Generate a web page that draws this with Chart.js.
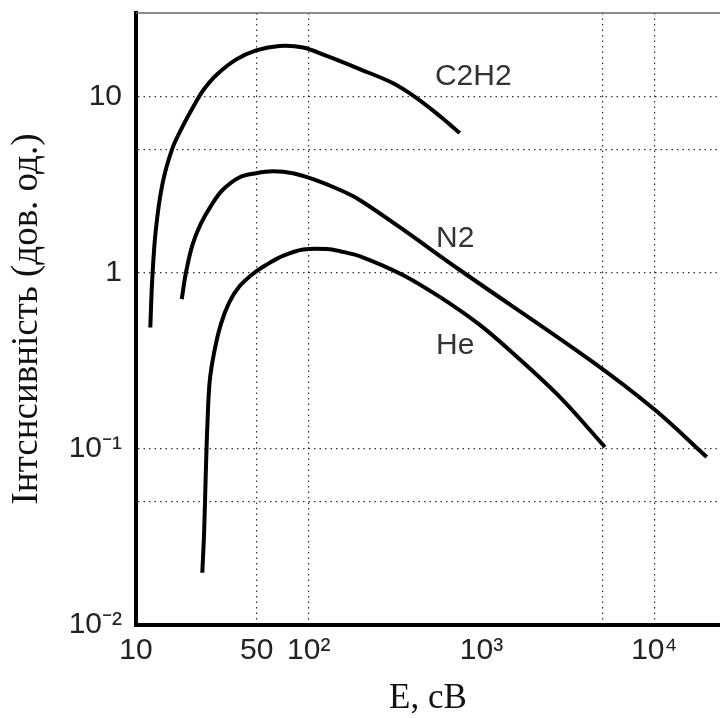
<!DOCTYPE html>
<html>
<head>
<meta charset="utf-8">
<script src="https://cdn.jsdelivr.net/npm/chart.js@4.4.1/dist/chart.umd.min.js"></script>
<style>
  html, body { margin: 0; padding: 0; background: #fff; overflow: hidden; }
</style>
</head>
<body>
<canvas id="chart" width="720" height="718"></canvas>
<script>
// Energy (eV) and intensity (arb. units)
const c2h2E = [12.1, 12.4, 13.0, 14.2, 16.2, 18.5, 22.2, 24.8, 29.6, 37.9, 49.6, 67.7, 92.7, 127, 197, 306, 421, 573, 748];
const c2h2I = [0.49, 0.90, 1.73, 3.18, 5.07, 6.72, 9.33, 11.1, 13.5, 16.3, 18.4, 19.5, 19.1, 17.1, 14.4, 12.0, 9.86, 7.8, 6.24];

const n2E = [18.4, 19.4, 21.2, 23.7, 27.1, 31.7, 39.6, 49.6, 62, 81, 106, 152, 197, 336, 748, 4236, 10070, 20130];
const n2I = [0.71, 0.99, 1.44, 1.90, 2.40, 2.96, 3.49, 3.69, 3.78, 3.69, 3.41, 2.96, 2.60, 1.82, 1.04, 0.321, 0.167, 0.090];

const heE = [24.2, 24.8, 25.3, 25.9, 26.7, 28.3, 31.0, 34.6, 39.6, 47.4, 56.6, 70.8, 92.7, 127, 152, 200, 350, 573, 977, 1560, 2845, 5175];
const heI = [0.0198, 0.0339, 0.0684, 0.138, 0.242, 0.352, 0.512, 0.678, 0.837, 0.987, 1.11, 1.25, 1.36, 1.37, 1.33, 1.24, 0.975, 0.731, 0.507, 0.342, 0.197, 0.1026];

// axis ticks
const xTicks = [10, 50, 100, 1000, 5000, 10000];
const xTickLabels = ['10', '50', '10²', '10³', '', '10⁴'];
const xGridAt = [50, 100, 5000, 10000];

const yTicks = [0.01, 0.05, 0.1, 1, 5, 10];
const yTickLabels = ['10⁻²', '', '10⁻¹', '1', '', '10'];
const yGridAt = [0.05, 0.1, 1, 5, 10];

// curve names placed beside the curves (energy, intensity)
const curveNames = ['C2H2', 'N2', 'He'];
const nameE = [537, 545, 545];
const nameI = [13.0, 1.57, 0.385];

const toPoints = (xs, ys) => xs.map((x, i) => ({ x: x, y: ys[i] }));

const lineStyle = {
    borderColor: '#000',
    borderWidth: 4,
    pointRadius: 0,
    fill: false,
    tension: 0.35
};

const gridColor = (list) => (ctx) =>
    list.includes(ctx.tick && ctx.tick.value) ? '#333' : 'rgba(0,0,0,0)';

// labels + thin top frame line
const extras = {
    id: 'extras',
    afterDatasetsDraw(chart) {
        const { ctx, chartArea, scales } = chart;
        ctx.save();
        ctx.strokeStyle = '#666';
        ctx.lineWidth = 1.5;
        ctx.beginPath();
        ctx.moveTo(chartArea.left, chartArea.top);
        ctx.lineTo(chartArea.right, chartArea.top);
        ctx.stroke();

        ctx.fillStyle = '#333';
        ctx.font = '30px "Liberation Sans", Arial, sans-serif';
        ctx.textAlign = 'left';
        ctx.textBaseline = 'middle';
        curveNames.forEach((name, i) => {
            ctx.fillText(name, scales.x.getPixelForValue(nameE[i]), scales.y.getPixelForValue(nameI[i]));
        });
        ctx.restore();
    }
};

new Chart(document.getElementById('chart'), {
    type: 'line',
    data: {
        datasets: [
            { label: 'C2H2', data: toPoints(c2h2E, c2h2I), ...lineStyle },
            { label: 'N2', data: toPoints(n2E, n2I), ...lineStyle },
            { label: 'He', data: toPoints(heE, heI), ...lineStyle }
        ]
    },
    options: {
        responsive: false,
        animation: false,
        layout: { padding: { top: 13, left: 0, right: 0, bottom: 0 } },
        plugins: {
            legend: { display: false },
            tooltip: { enabled: false }
        },
        scales: {
            x: {
                type: 'logarithmic',
                min: 10,
                max: 24000,
                afterBuildTicks: (s) => { s.ticks = xTicks.map(v => ({ value: v })); },
                afterFit: (s) => { s.height = 93; s.paddingLeft = 0; s.paddingRight = 0; },
                ticks: {
                    autoSkip: false,
                    maxRotation: 0,
                    padding: 8,
                    color: '#222',
                    font: { family: '"Liberation Sans", Arial, sans-serif', size: 30 },
                    callback: (v) => xTickLabels[xTicks.indexOf(v)] ?? ''
                },
                grid: {
                    color: gridColor(xGridAt),
                    lineWidth: 1.2,
                    drawTicks: false
                },
                border: { display: true, color: '#000', width: 4, dash: [1.5, 4] },
                title: {
                    display: true,
                    text: 'E, сВ',
                    color: '#111',
                    font: { family: '"Liberation Serif", "Times New Roman", serif', size: 35, lineHeight: 1 },
                    padding: { top: 0, bottom: 2 }
                }
            },
            y: {
                type: 'logarithmic',
                min: 0.01,
                max: 30,
                afterBuildTicks: (s) => { s.ticks = yTicks.map(v => ({ value: v })); },
                afterFit: (s) => { s.width = 136; s.paddingTop = 0; s.paddingBottom = 0; },
                ticks: {
                    autoSkip: false,
                    padding: 14,
                    color: '#222',
                    font: { family: '"Liberation Sans", Arial, sans-serif', size: 30 },
                    callback: (v) => yTickLabels[yTicks.indexOf(v)] ?? ''
                },
                grid: {
                    color: gridColor(yGridAt),
                    lineWidth: 1.2,
                    drawTicks: false
                },
                border: { display: true, color: '#000', width: 4, dash: [1.5, 4] },
                title: {
                    display: true,
                    text: 'Інтснсивність (дов. од.)',
                    color: '#111',
                    font: { family: '"Liberation Serif", "Times New Roman", serif', size: 37, lineHeight: 1 },
                    padding: { top: 9, bottom: 0 }
                }
            }
        }
    },
    plugins: [extras]
});
</script>
</body>
</html>
